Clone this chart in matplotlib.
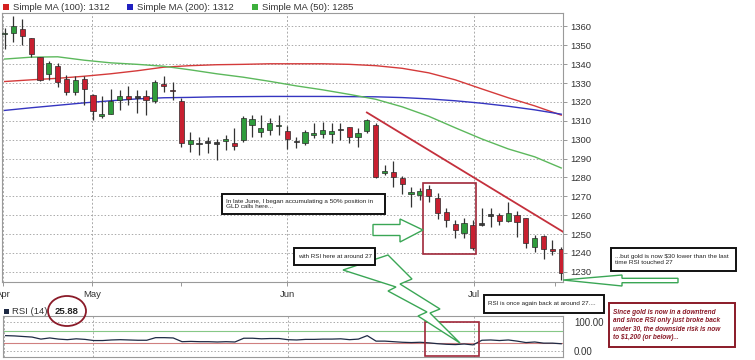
import matplotlib
matplotlib.use("Agg")
import matplotlib.pyplot as plt
from matplotlib.patches import Rectangle, Polygon, Ellipse
import numpy as np

plt.rcParams['font.family'] = ['Liberation Sans', 'DejaVu Sans']

# ---------------- data ----------------
opens  = [1355.8,1356.5,1358.8,1353.8,1343.6,1335.0,1338.8,1332.3,1325.5,1332.1,
          1323.8,1312.4,1313.7,1321.0,1323.3,1322.6,1323.2,1320.7,1329.3,1326.4,
          1320.7,1297.6,1298.1,1299.0,1298.5,1299.5,1298.1,1299.9,1307.9,1304.3,
          1305.2,1307.0,1304.8,1298.5,1298.1,1302.5,1302.9,1303.1,1304.9,1306.6,
          1301.6,1304.8,1307.9,1282.3,1283.1,1279.6,1271.3,1270.7,1273.7,1269.0,
          1261.9,1255.2,1250.4,1254.8,1255.4,1259.7,1260.0,1257.0,1260.0,1258.4,
          1243.0,1249.0,1241.9,1241.9]
highs  = [1359.0,1365.5,1364.0,1354.0,1344.0,1341.5,1340.6,1334.4,1333.5,1333.5,
          1324.0,1322.9,1326.8,1326.4,1328.2,1326.4,1326.4,1331.7,1333.7,1330.3,
          1322.0,1304.3,1301.6,1301.6,1300.3,1302.5,1306.1,1312.3,1313.2,1313.2,
          1311.4,1313.2,1307.0,1301.3,1305.2,1309.0,1309.6,1309.0,1309.0,1306.8,
          1306.1,1310.9,1308.8,1286.6,1288.8,1280.8,1275.1,1274.3,1276.0,1271.6,
          1263.7,1257.5,1258.4,1257.5,1263.7,1263.7,1261.3,1267.2,1262.4,1258.4,
          1249.5,1249.5,1246.9,1243.3]
lows   = [1348.0,1352.0,1350.3,1344.0,1331.0,1331.7,1327.9,1323.8,1323.8,1318.5,
          1310.5,1311.4,1313.7,1315.8,1318.5,1314.0,1313.2,1319.4,1325.5,1321.1,
          1296.0,1293.7,1292.0,1292.8,1289.0,1294.6,1294.6,1299.0,1301.6,1301.6,
          1302.5,1302.5,1295.0,1295.5,1297.2,1300.8,1300.8,1298.1,1299.9,1298.1,
          1296.3,1303.4,1279.6,1281.3,1275.1,1271.2,1264.2,1268.1,1267.2,1257.8,
          1253.6,1247.7,1247.7,1241.5,1254.3,1254.0,1255.0,1256.5,1248.6,1242.4,
          1240.6,1236.6,1238.9,1225.6]
closes = [1356.6,1360.2,1355.0,1345.5,1331.4,1340.6,1330.5,1325.5,1331.4,1326.8,
          1315.0,1313.4,1320.7,1323.0,1321.8,1322.0,1321.1,1330.3,1328.6,1325.6,
          1298.1,1299.9,1297.5,1298.4,1297.9,1300.2,1296.7,1311.4,1310.9,1306.1,
          1308.8,1307.8,1300.3,1299.0,1304.3,1303.2,1305.2,1304.8,1305.5,1301.3,
          1303.4,1310.2,1280.1,1283.0,1280.4,1276.6,1272.0,1273.0,1270.2,1261.3,
          1257.5,1252.2,1256.0,1242.4,1255.0,1260.3,1257.0,1261.3,1256.5,1245.4,
          1247.8,1241.9,1241.0,1229.2]

# moving averages, read every 3rd session
ma_idx = [0,3,6,9,12,15,18,21,24,27,30,33,36,39,42,45,48,51,54,57,60,63]
ma50  = [1342.7,1343.7,1343.9,1342.1,1340.7,1339.9,1338.9,1337.0,1334.9,1333.1,1330.9,
         1328.5,1326.4,1324.0,1321.4,1317.4,1312.4,1306.3,1300.4,1295.1,1290.9,1285.0]
ma100 = [1330.8,1331.7,1332.5,1333.6,1334.9,1336.5,1338.4,1339.2,1339.7,1339.9,1340.2,
         1340.2,1340.2,1339.9,1339.2,1337.8,1335.4,1331.7,1326.9,1322.2,1317.9,1313.0]
ma200 = [1315.5,1316.9,1318.2,1319.5,1320.6,1321.6,1322.2,1322.4,1322.7,1322.8,1322.9,
         1322.9,1322.9,1322.8,1322.7,1322.3,1321.6,1320.6,1319.3,1317.7,1315.8,1313.5]

rsi = [54,53,51,49,42,46,42,40,43,41,
       37,37,39,40,39,38,38,47,47,46,
       33,34,33,33,32,33,32,45,45,43,
       44,44,40,39,41,41,42,42,43,40,
       42,54,35,35,33,31,30,31,29,26,
       24,23,25,22,38,39,37,39,35,30,
       32,28,28,25.88]

month_pos = [-0.2, 9.9, 32.0, 53.1]
month_lab = ['Apr', 'May', 'Jun', 'Jul']
minor_pos = [20.0, 62.3]
price_ticks = list(range(1230, 1361, 10))

legend_labels = ['Simple MA (100): 1312', 'Simple MA (200): 1312', 'Simple MA (50): 1285']

# ---------------- figure ----------------
W, H = 755, 360
fig = plt.figure(figsize=(W/100, H/100), dpi=100)
fig.patch.set_facecolor('white')

def fx(px): return px / W
def fy(py): return 1 - py / H

ax = fig.add_axes([fx(2), fy(282), fx(563) - fx(2), fy(13) - fy(282)])
ax.set_xlim(-0.3, 63.2)
ax.set_ylim(1224.6, 1367.1)

c_green = '#2f9c3c'
c_red = '#c81f30'
c_dark = '#3a3a3a'
bw = 0.58
n = len(opens)
for i in range(n):
    o, h, l, c = opens[i], highs[i], lows[i], closes[i]
    if c - o > 0.6:
        col = c_green
    elif o - c > 0.6:
        col = c_red
    else:
        col = c_dark
    ax.plot([i, i], [l, h], color='#333333', lw=0.9, zorder=3, solid_capstyle='butt')
    bot = min(o, c)
    ht = max(abs(c - o), 0.9)
    ax.add_patch(Rectangle((i - bw/2, bot), bw, ht, facecolor=col,
                           edgecolor='#2a2a2a', lw=0.5, zorder=4))

ax.plot(ma_idx, ma100, color='#d43a3a', lw=1.0, zorder=2)
ax.plot(ma_idx, ma200, color='#3535c0', lw=1.0, zorder=2)
ax.plot(ma_idx, ma50, color='#5cb85c', lw=1.0, zorder=2)

# trend line and box
ax.plot([41.0, 63.2], [1314.4, 1251.2], color='#c4303c', lw=1.3, zorder=5)
ax.add_patch(Rectangle((47.4, 1239.4), 53.3 - 47.4, 1277.2 - 1239.4, fill=False,
                       edgecolor='#a0283a', lw=1.2, zorder=6))

ax.set_yticks(price_ticks)
ax.yaxis.tick_right()
ax.tick_params(axis='y', length=3, width=0.6, color='#888888', labelsize=6.8,
               labelcolor='#333333', pad=2.5)
ax.set_xticks(month_pos)
ax.set_xticklabels(month_lab)
ax.set_xticks(minor_pos, minor=True)
ax.tick_params(axis='x', which='both', length=3, width=0.6, color='#888888',
               labelsize=6.8, labelcolor='#333333', pad=2.5, direction='out')
ax.grid(axis='y', color='#aaaaaa', ls=(0, (1.5, 2)), lw=0.7)
ax.grid(axis='x', color='#aaaaaa', ls=(0, (2, 2)), lw=0.7)
for s in ax.spines.values():
    s.set_color('#9a9a9a'); s.set_linewidth(0.8)

# ---------------- RSI panel ----------------
ax2 = fig.add_axes([fx(3), fy(357), fx(563) - fx(3), fy(316) - fy(357)])
ax2.set_xlim(-0.3, 63.2)
ax2.set_ylim(-20, 122)
ax2.plot(range(n), rsi, color='#1e2a44', lw=0.9, zorder=3)
ax2.axhline(70, color='#86c886', lw=0.8, zorder=2)
ax2.axhline(30, color='#d08080', lw=0.8, zorder=2)
ax2.set_yticks([0, 100])
ax2.set_yticklabels(['0.00', '100.00'])
ax2.yaxis.tick_right()
ax2.tick_params(axis='y', length=0, labelsize=7, labelcolor='#333333', pad=8)
ax2.set_xticks(month_pos)
ax2.set_xticklabels([])
ax2.tick_params(axis='x', length=0)
ax2.grid(axis='y', color='#aaaaaa', ls=(0, (1.5, 2)), lw=0.7)
ax2.grid(axis='x', color='#aaaaaa', ls=(0, (2, 2)), lw=0.7)
for s in ax2.spines.values():
    s.set_color('#9a9a9a'); s.set_linewidth(0.8)
ax2.add_patch(Rectangle((47.6, -18), 53.7 - 47.6, 120, fill=False,
                        edgecolor='#a0283a', lw=1.2, zorder=6, clip_on=False))

# ---------------- overlay (pixel coords) ----------------
ov = fig.add_axes([0, 0, 1, 1], zorder=10)
ov.set_xlim(0, W); ov.set_ylim(H, 0); ov.axis('off')
ov.patch.set_alpha(0)

# legend
leg_cols = ['#d42020', '#2020c0', '#3cb03c']
leg_x = [3, 127, 252]
for lx, lc, lt in zip(leg_x, leg_cols, legend_labels):
    ov.add_patch(Rectangle((lx, 3.5), 6, 6, facecolor=lc, edgecolor='none'))
    ov.text(lx + 10, 7, lt, fontsize=6.8, color='#333333', va='center', ha='left')

# RSI legend
ov.add_patch(Rectangle((4, 309), 5, 5, facecolor='#1e2a44', edgecolor='none'))
ov.text(12, 311.5, 'RSI (14)', fontsize=6.8, color='#333333', va='center')
ov.text(55, 311.5, '25.88', fontsize=6.8, color='#222222', va='center', fontweight='bold')
ov.add_patch(Ellipse((67, 311), 38, 30, fill=False, edgecolor='#8a1a28', lw=1.3))

gcol = '#3aa655'
# right-pointing block arrow
ov.add_patch(Polygon([(373, 224.5), (400, 224.5), (400, 219), (423, 230), (400, 242),
                      (400, 235.5), (373, 235.5)], closed=True, facecolor='white',
                     edgecolor=gcol, lw=1.0))
# left-pointing arrow bottom right
ov.add_patch(Polygon([(563, 280), (622, 275), (622, 278.3), (678, 278.3), (678, 282.7),
                      (622, 282.7), (622, 286)], closed=True, facecolor='white',
                     edgecolor=gcol, lw=1.0))
# lightning bolt
bolt = [(343, 270), (388, 255), (412, 279), (400, 284), (440, 309), (430, 313), (460, 343),
        (418, 316), (427, 312), (388, 291), (396, 287)]
ov.add_patch(Polygon(bolt, closed=True, facecolor='white', edgecolor=gcol, lw=1.0, zorder=4))

# text boxes
def tbox(x0, y0, x1, y1, ec, lw, text, ls=1.1, **kw):
    ov.add_patch(Rectangle((x0, y0), x1 - x0, y1 - y0, facecolor='white',
                           edgecolor=ec, lw=lw, zorder=5))
    ov.text(x0 + 4, (y0 + y1) / 2, text, va='center', ha='left', zorder=6,
            linespacing=ls, **kw)

tbox(222, 194, 385, 214, '#111111', 1.4,
     'In late June, I began accumulating a 50% position in\nGLD calls here...',
     fontsize=4.6, color='#222222')
tbox(294, 248, 375, 265, '#111111', 1.4, 'with RSI here at around 27',
     fontsize=4.5, color='#222222')
tbox(611, 248, 736, 271, '#111111', 1.4,
     '...but gold is now $30 lower than the last\ntime RSI touched 27',
     fontsize=4.6, color='#222222')
tbox(484, 295, 604, 313, '#111111', 1.4, 'RSI is once again back at around 27....',
     fontsize=4.5, color='#222222')
tbox(609, 303, 735, 347, '#8a1a28', 1.4,
     'Since gold is now in a downtrend\nand since RSI only just broke back\n'
     'under 30, the downside risk is now\nto $1,200 (or below)...',
     ls=1.3, fontsize=4.7, color='#8a1a28', fontweight='bold', fontstyle='italic')

fig.savefig('out.png', dpi=100, facecolor='white')
